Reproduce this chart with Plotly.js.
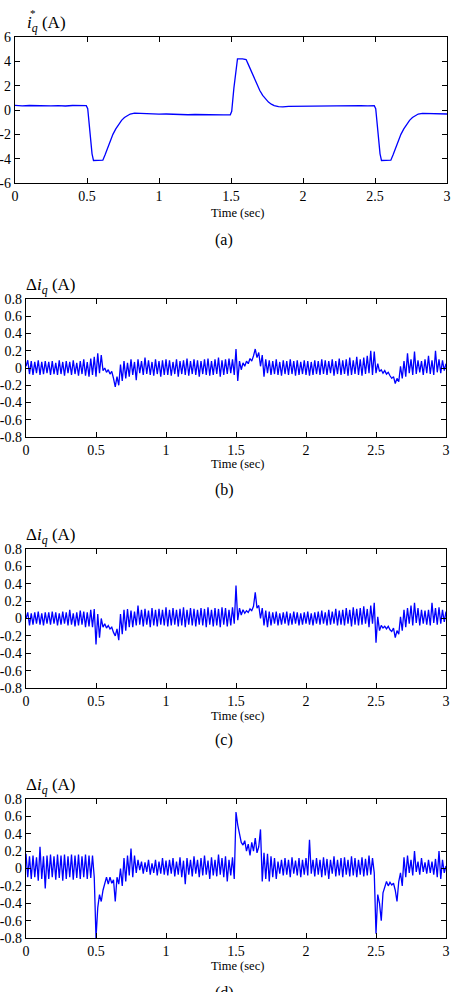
<!DOCTYPE html>
<html>
<head>
<meta charset="utf-8">
<script src="https://cdn.plot.ly/plotly-3.0.1.min.js"></script>
<style>
  html, body { margin: 0; padding: 0; background: #fff; }
  #chart { width: 462px; height: 992px; }
</style>
</head>
<body>
<div id="chart"></div>
<script>
// ---- (a) q-axis current reference i_q* (A) ----
const timeA = [
  0, 0.05, 0.1, 0.15, 0.2, 0.25, 0.3, 0.35, 0.4, 0.45,
  0.495, 0.505, 0.52, 0.535, 0.545, 0.58, 0.61,
  0.625, 0.64, 0.66, 0.68, 0.7, 0.72, 0.74, 0.76, 0.78, 0.8,
  0.83, 0.86, 0.9, 0.95,
  1.0, 1.05, 1.1, 1.15, 1.2, 1.25, 1.3, 1.35, 1.4, 1.45,
  1.495, 1.505, 1.52, 1.535, 1.545, 1.58, 1.605,
  1.62, 1.64, 1.66, 1.68, 1.7, 1.72, 1.74, 1.76, 1.78, 1.8,
  1.83, 1.86, 1.9, 1.95,
  2.0, 2.05, 2.1, 2.15, 2.2, 2.25, 2.3, 2.35, 2.4, 2.45,
  2.495, 2.505, 2.52, 2.535, 2.545, 2.58, 2.61,
  2.625, 2.64, 2.66, 2.68, 2.7, 2.72, 2.74, 2.76, 2.78, 2.8,
  2.83, 2.86, 2.9, 2.95, 3.0
];
const iqRefA = [
  0.38, 0.34, 0.37, 0.35, 0.38, 0.34, 0.36, 0.33, 0.37, 0.35,
  0.36, 0.1, -1.8, -3.6, -4.15, -4.15, -4.12,
  -3.7, -3.2, -2.6, -2.0, -1.55, -1.15, -0.85, -0.62, -0.45, -0.33,
  -0.26, -0.28, -0.27, -0.32,
  -0.34, -0.33, -0.37, -0.35, -0.39, -0.37, -0.39, -0.41, -0.38, -0.4,
  -0.39, -0.1, 1.8, 3.6, 4.2, 4.2, 4.15,
  3.75, 3.2, 2.6, 2.05, 1.6, 1.2, 0.9, 0.65, 0.48, 0.36,
  0.27, 0.25, 0.3, 0.31,
  0.33, 0.32, 0.35, 0.33, 0.36, 0.34, 0.37, 0.35, 0.36, 0.34,
  0.36, 0.1, -1.8, -3.6, -4.15, -4.15, -4.12,
  -3.7, -3.2, -2.6, -2.0, -1.55, -1.15, -0.85, -0.62, -0.45, -0.33,
  -0.27, -0.28, -0.29, -0.31, -0.33
];

// ---- (b)-(d) current error Δi_q (A), sampled every 12.5 ms from 0 to 3 s ----
const sampleStep = 0.0125;
const dIqB = [
  0.02, 0.09, -0.07, 0.08, -0.08, 0.07, -0.06, 0.09, -0.08, 0.07,
  -0.07, 0.08, -0.06, 0.07, -0.08, 0.08, -0.07, 0.06, -0.08, 0.09,
  -0.07, 0.07, -0.09, 0.08, -0.06, 0.07, -0.08, 0.09, -0.07, 0.06,
  -0.09, 0.08, -0.07, 0.1, -0.09, 0.07, -0.1, 0.11, -0.08, 0.13,
  -0.1, 0.17, -0.06, 0.15, -0.03, 0.0, -0.05, -0.02, -0.07, -0.04,
  -0.12, -0.22, -0.1, -0.2, 0.04, -0.15, 0.08, -0.12, 0.06, -0.1,
  0.1, -0.08, 0.07, -0.14, 0.1, -0.06, 0.08, -0.08, 0.12, -0.07,
  0.09, -0.08, 0.07, -0.09, 0.1, -0.07, 0.08, -0.1, 0.09, -0.08,
  0.1, -0.08, 0.09, -0.09, 0.07, -0.07, 0.1, -0.1, 0.08, -0.07,
  0.09, -0.08, 0.11, -0.09, 0.08, -0.07, 0.1, -0.08, 0.09, -0.1,
  0.08, -0.07, 0.1, -0.08, 0.11, -0.09, 0.08, -0.08, 0.1, -0.07,
  0.12, -0.1, 0.09, -0.08, 0.1, -0.07, 0.11, -0.06, 0.1, -0.08,
  0.22, -0.15, 0.08, -0.02, 0.06, 0.02, 0.08, 0.05, 0.11, 0.08,
  0.14, 0.22, 0.12, 0.18, 0.02, 0.15, -0.1, 0.1, -0.06, 0.09,
  -0.08, 0.08, -0.07, 0.1, -0.08, 0.07, -0.09, 0.09, -0.07, 0.08,
  -0.08, 0.1, -0.07, 0.08, -0.09, 0.09, -0.08, 0.07, -0.07, 0.09,
  -0.08, 0.08, -0.09, 0.07, -0.08, 0.09, -0.07, 0.08, -0.08, 0.1,
  -0.07, 0.09, -0.08, 0.08, -0.06, 0.1, -0.09, 0.08, -0.07, 0.11,
  -0.08, 0.09, -0.07, 0.1, -0.09, 0.12, -0.08, 0.09, -0.07, 0.13,
  -0.08, 0.1, -0.09, 0.12, -0.07, 0.14, -0.06, 0.2, -0.08, 0.19,
  -0.06, 0.05, -0.04, -0.02, -0.06, -0.03, -0.07, -0.05, -0.09, -0.12,
  -0.1, -0.18, -0.12, -0.16, 0.02, -0.12, 0.08, -0.1, 0.17, -0.06,
  0.1, -0.08, 0.19, -0.07, 0.09, -0.05, 0.08, -0.08, 0.1, -0.06,
  0.14, -0.07, 0.09, -0.08, 0.2, -0.05, 0.1, -0.06, 0.09, -0.03,
  0.05
];
const dIqC = [
  0.0, 0.07, -0.08, 0.06, -0.07, 0.07, -0.06, 0.08, -0.07, 0.06,
  -0.08, 0.07, -0.06, 0.07, -0.07, 0.08, -0.06, 0.07, -0.08, 0.06,
  -0.07, 0.08, -0.06, 0.07, -0.08, 0.1, -0.07, 0.06, -0.09, 0.07,
  -0.08, 0.09, -0.07, 0.08, -0.1, 0.07, -0.09, 0.1, -0.1, 0.11,
  -0.3, 0.05, -0.22, 0.0, -0.1, -0.06, -0.11, -0.08, -0.12, -0.1,
  -0.16, -0.2, -0.12, -0.25, 0.05, -0.18, 0.1, -0.14, 0.11, -0.1,
  0.09, -0.1, 0.08, -0.08, 0.15, -0.07, 0.1, -0.09, 0.11, -0.07,
  0.09, -0.1, 0.12, -0.08, 0.1, -0.09, 0.11, -0.07, 0.1, -0.08,
  0.13, -0.09, 0.1, -0.08, 0.12, -0.07, 0.1, -0.09, 0.11, -0.08,
  0.13, -0.1, 0.1, -0.07, 0.12, -0.08, 0.11, -0.09, 0.1, -0.07,
  0.12, -0.08, 0.11, -0.1, 0.13, -0.07, 0.1, -0.09, 0.12, -0.08,
  0.11, -0.1, 0.13, -0.07, 0.12, -0.09, 0.1, -0.08, 0.13, -0.06,
  0.38, -0.02, 0.12, 0.04, 0.1, 0.06, 0.09, 0.07, 0.11, 0.09,
  0.14, 0.3, 0.12, 0.15, 0.0, 0.12, -0.08, 0.09, -0.1, 0.08,
  -0.08, 0.07, -0.06, 0.08, -0.08, 0.06, -0.07, 0.07, -0.06, 0.08,
  -0.08, 0.06, -0.07, 0.08, -0.06, 0.07, -0.08, 0.06, -0.07, 0.07,
  -0.06, 0.08, -0.07, 0.06, -0.08, 0.07, -0.06, 0.08, -0.07, 0.09,
  -0.06, 0.07, -0.08, 0.1, -0.07, 0.08, -0.06, 0.11, -0.08, 0.09,
  -0.07, 0.1, -0.08, 0.12, -0.06, 0.1, -0.09, 0.13, -0.07, 0.11,
  -0.08, 0.12, -0.07, 0.14, -0.06, 0.11, -0.1, 0.15, -0.06, 0.18,
  -0.28, 0.02, -0.14, -0.08, -0.11, -0.09, -0.12, -0.09, -0.13, -0.15,
  -0.11, -0.22, -0.14, -0.18, 0.02, -0.14, 0.1, -0.1, 0.12, -0.06,
  0.15, -0.08, 0.18, -0.05, 0.12, -0.08, 0.1, -0.06, 0.09, -0.07,
  0.1, -0.08, 0.18, -0.05, 0.12, -0.07, 0.13, -0.06, 0.1, -0.04,
  0.08
];
const dIqD = [
  0.17, -0.1, 0.14, -0.12, 0.15, -0.1, 0.13, -0.14, 0.25, -0.12,
  0.14, -0.23, 0.15, -0.12, 0.16, -0.1, 0.14, -0.13, 0.16, -0.11,
  0.15, -0.14, 0.16, -0.12, 0.14, -0.1, 0.16, -0.13, 0.15, -0.11,
  0.16, -0.12, 0.14, -0.1, 0.16, -0.12, 0.15, -0.11, 0.15, -0.1,
  -0.8, -0.45, -0.3, -0.38, -0.25, -0.17, -0.1, -0.18, -0.1, -0.17,
  -0.13, -0.38, -0.1, -0.18, 0.0, -0.2, 0.12, -0.15, 0.15, -0.08,
  0.23, -0.1, 0.15, -0.05, 0.1, -0.02, 0.08, -0.06, 0.07, -0.04,
  0.1, -0.07, 0.06, -0.05, 0.1, -0.08, 0.08, -0.06, 0.12, -0.07,
  0.09, -0.08, 0.1, -0.06, 0.12, -0.09, 0.08, -0.07, 0.13, -0.1,
  0.09, -0.18, 0.12, -0.07, 0.1, -0.09, 0.14, -0.06, 0.1, -0.1,
  0.12, -0.08, 0.15, -0.07, 0.09, -0.12, 0.13, -0.08, 0.1, -0.09,
  0.16, -0.07, 0.12, -0.1, 0.14, -0.15, 0.1, -0.08, 0.13, -0.12,
  0.65, 0.5, 0.38, 0.3, 0.27, 0.32, 0.2, 0.28, 0.15, 0.3,
  0.2, 0.35, 0.18, 0.25, 0.45, -0.15, 0.18, -0.12, 0.17, -0.15,
  0.14, -0.1, 0.12, -0.12, 0.08, -0.06, 0.1, -0.08, 0.12, -0.07,
  0.1, -0.1, 0.13, -0.06, 0.09, -0.08, 0.12, -0.1, 0.1, -0.07,
  0.12, -0.08, 0.33, -0.06, 0.1, -0.09, 0.12, -0.07, 0.1, -0.1,
  0.13, -0.08, 0.11, -0.12, 0.1, -0.06, 0.14, -0.09, 0.1, -0.08,
  0.12, -0.1, 0.13, -0.07, 0.1, -0.09, 0.14, -0.08, 0.12, -0.1,
  0.1, -0.07, 0.13, -0.09, 0.11, -0.08, 0.15, -0.07, 0.12, -0.05,
  -0.75, -0.3, -0.4, -0.6, -0.28, -0.2, -0.15, -0.2, -0.16, -0.19,
  -0.17, -0.25, -0.38, -0.15, -0.05, -0.2, 0.13, -0.1, 0.15, -0.05,
  0.1, -0.08, 0.2, -0.04, 0.08, -0.07, 0.12, -0.04, 0.07, -0.06,
  0.1, -0.05, 0.08, -0.07, 0.11, -0.1, 0.2, -0.12, 0.1, -0.05,
  0.03
];

// ---- ticks and labels ----
const xTickVals = [0, 0.5, 1, 1.5, 2, 2.5, 3];
const xTickText = ['0', '0.5', '1', '1.5', '2', '2.5', '3'];
const yTickValsA = [-6, -4, -2, 0, 2, 4, 6];
const yTickTextA = ['-6', '-4', '-2', '0', '2', '4', '6'];
const yTickValsErr = [-0.8, -0.6, -0.4, -0.2, 0, 0.2, 0.4, 0.6, 0.8];
const yTickTextErr = ['-0.8', '-0.6', '-0.4', '-0.2', '0', '0.2', '0.4', '0.6', '0.8'];
const panelLabels = ['(a)', '(b)', '(c)', '(d)'];
const xTitle = 'Time (sec)';
const refTitle = '<i>i</i><sub><i>q</i></sub> (A)';
const errTitle = 'Δ<i>i</i><sub><i>q</i></sub> (A)';

// ---- page geometry (pixels) ----
const W = 462, H = 992;
const fx = p => p / W;
const fy = p => 1 - p / H;
const boxes = [
  { x0: 15, x1: 447, y0: 37,  y1: 183 },
  { x0: 26, x1: 446, y0: 299, y1: 437 },
  { x0: 26, x1: 446, y0: 549, y1: 688 },
  { x0: 26, x1: 446, y0: 799, y1: 938 }
];
const labelY = [240, 490, 740, 993];
const xTitleY = [213, 464, 715.5, 965.5];

const serif = "'Liberation Serif', 'Times New Roman', Times, serif";
const lineStyle = { color: 'rgb(0,0,255)', width: 1.3 };

const errTime = dIqB.map((_, i) => i * sampleStep);
const traces = [
  { x: timeA, y: iqRefA, xaxis: 'x', yaxis: 'y' },
  { x: errTime, y: dIqB, xaxis: 'x2', yaxis: 'y2' },
  { x: errTime, y: dIqC, xaxis: 'x3', yaxis: 'y3' },
  { x: errTime, y: dIqD, xaxis: 'x4', yaxis: 'y4' }
].map(t => Object.assign(t, { type: 'scatter', mode: 'lines', line: lineStyle, hoverinfo: 'skip' }));

const axisBase = {
  showline: true, linecolor: '#000', linewidth: 1.3, mirror: 'ticks',
  ticks: 'inside', ticklen: 5, tickwidth: 1, tickcolor: '#000',
  showgrid: false, zeroline: false, fixedrange: true,
  tickfont: { family: serif, size: 14, color: '#000' }
};

const layout = {
  width: W, height: H,
  margin: { l: 0, r: 0, t: 0, b: 0 },
  paper_bgcolor: '#fff', plot_bgcolor: '#fff',
  showlegend: false,
  font: { family: serif, color: '#000' },
  annotations: []
};

boxes.forEach((b, k) => {
  const s = k === 0 ? '' : String(k + 1);
  layout['xaxis' + s] = Object.assign({}, axisBase, {
    domain: [fx(b.x0), fx(b.x1)], anchor: 'y' + s,
    range: [0, 3], tickmode: 'array', tickvals: xTickVals, ticktext: xTickText
  });
  layout['yaxis' + s] = Object.assign({}, axisBase, {
    domain: [fy(b.y1), fy(b.y0)], anchor: 'x' + s,
    range: k === 0 ? [-6, 6] : [-0.8, 0.8],
    tickmode: 'array',
    tickvals: k === 0 ? yTickValsA : yTickValsErr,
    ticktext: k === 0 ? yTickTextA : yTickTextErr
  });
  layout.annotations.push({
    xref: 'paper', yref: 'paper', x: fx(237), y: fy(xTitleY[k]),
    xanchor: 'center', yanchor: 'middle', showarrow: false,
    text: xTitle, font: { family: serif, size: 12.5, color: '#000' }
  });
  layout.annotations.push({
    xref: 'paper', yref: 'paper', x: fx(224), y: fy(labelY[k]),
    xanchor: 'center', yanchor: 'middle', showarrow: false,
    text: panelLabels[k], font: { family: serif, size: 16, color: '#000' }
  });
  layout.annotations.push({
    xref: 'paper', yref: 'paper', x: fx(k === 0 ? 25 : 24), y: fy(b.y0 - 13),
    xanchor: 'left', yanchor: 'middle', showarrow: false,
    text: k === 0 ? refTitle : errTitle,
    font: { family: serif, size: 17, color: '#000' }
  });
});
// the asterisk of i_q*
layout.annotations.push({
  xref: 'paper', yref: 'paper', x: fx(33), y: fy(13),
  xanchor: 'center', yanchor: 'middle', showarrow: false,
  text: '*', font: { family: serif, size: 11, color: '#000' }
});

Plotly.newPlot('chart', traces, layout, { staticPlot: true, displayModeBar: false });
</script>
</body>
</html>
